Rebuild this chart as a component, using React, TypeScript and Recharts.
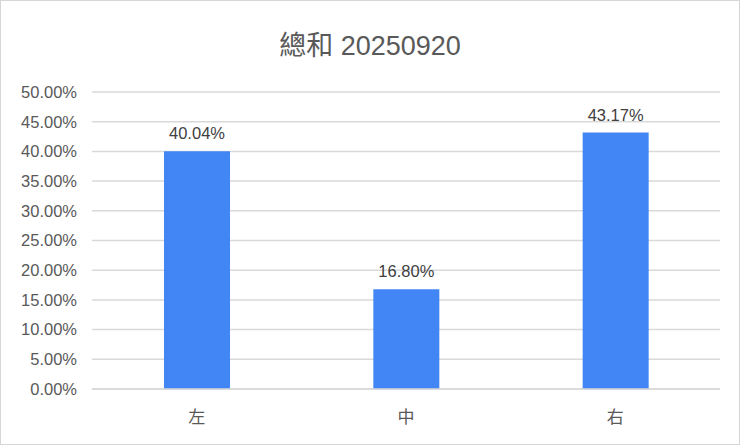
import { BarChart, Bar, XAxis, YAxis, CartesianGrid, LabelList } from "recharts";

const categories = ["左", "中", "右"];
const shares = [0.4004, 0.168, 0.4317];
const yTicks = [0, 0.05, 0.1, 0.15, 0.2, 0.25, 0.3, 0.35, 0.4, 0.45, 0.5];
const title = "總和 20250920";

const FONT = '"Liberation Sans", Arial, "Noto Sans CJK TC", sans-serif';

const pct = (v: number) => `${(v * 100).toFixed(2)}%`;

export default function App() {
  const data = categories.map((name, i) => ({ name, value: shares[i] }));

  return (
    <div
      style={{
        position: "absolute",
        left: 0,
        top: 0,
        width: 738,
        height: 443,
        border: "1px solid #d6d6d6",
        background: "#fff",
        fontFamily: FONT,
      }}
    >
      <div
        style={{
          position: "absolute",
          top: 23,
          left: 0,
          width: "100%",
          textAlign: "center",
          fontSize: 27,
          color: "#595959",
        }}
      >
        {title}
      </div>
      <BarChart
        width={738}
        height={443}
        data={data}
        margin={{ top: 91, right: 19, bottom: 25, left: 0 }}
      >
        <CartesianGrid vertical={false} stroke="#d9d9d9" strokeWidth={1.5} />
        <XAxis
          dataKey="name"
          axisLine={{ stroke: "#d9d9d9", strokeWidth: 1.5 }}
          tickLine={false}
          tickSize={0}
          tickMargin={22}
          height={30}
          tick={{ fill: "#595959", fontSize: 17, fontFamily: FONT }}
        />
        <YAxis
          domain={[0, 0.5]}
          ticks={yTicks}
          tickFormatter={pct}
          axisLine={false}
          tickLine={false}
          tickSize={0}
          tickMargin={15}
          width={91}
          interval={0}
          tick={{ fill: "#595959", fontSize: 16.5, fontFamily: FONT }}
        />
        <Bar dataKey="value" fill="#4285f4" barSize={66} isAnimationActive={false}>
          <LabelList
            dataKey="value"
            position="top"
            offset={12}
            formatter={(v: number) => pct(v)}
            style={{ fill: "#404040", fontSize: 16.5, fontFamily: FONT }}
          />
        </Bar>
      </BarChart>
    </div>
  );
}
